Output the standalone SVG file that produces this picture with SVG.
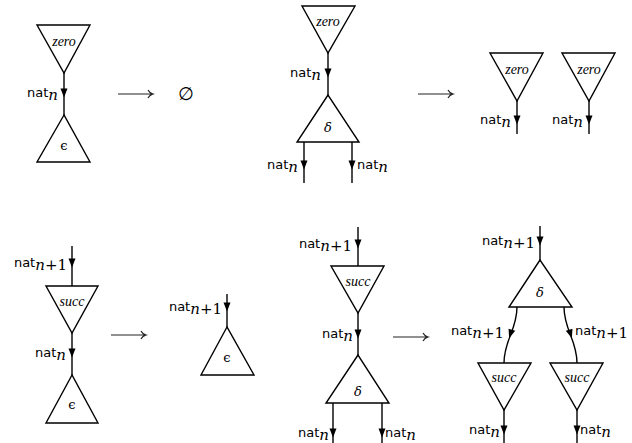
<svg xmlns="http://www.w3.org/2000/svg" width="632" height="443" viewBox="0 0 632 443">
<style>
.tri{fill:#fff;stroke:#000;stroke-width:1.4;stroke-linejoin:miter}
.w{fill:none;stroke:#000;stroke-width:1.4}
.ra{fill:none;stroke:#222;stroke-width:1.2}
.lab{font-family:"DejaVu Sans",sans-serif;font-size:13px;fill:#000}
.sub{font-family:"DejaVu Serif",serif;font-style:italic;font-size:15px}
.subu{font-family:"DejaVu Serif",serif;font-size:15px}
.nm{font-family:"Liberation Serif",serif;font-style:italic;font-size:14px;fill:#000;text-anchor:middle}
.gk{font-family:"DejaVu Serif",serif;font-style:italic;font-size:13px;fill:#000;text-anchor:middle}
.ep{font-family:"DejaVu Serif",serif;font-size:13px;fill:#000;text-anchor:middle}
</style>
<defs>
<path id="ah" d="M-3.5,-4.5 L3.5,-4.5 L0,4.5 Z" fill="#000"/>
<path id="rarr" d="M0,0 H35 M30,-4 Q31.5,-1 35,0 Q31.5,1 30,4"/>
</defs>

<!-- connectors -->
<g id="connectors">
<path class="w" d="M64,73 V115"/><use href="#ah" x="64" y="93"/>
<path class="w" d="M328,53 V95"/><use href="#ah" x="328" y="73"/>
<path class="w" d="M304,142 V183"/><use href="#ah" x="304" y="165"/>
<path class="w" d="M352,142 V183"/><use href="#ah" x="352" y="165"/>
<path class="w" d="M517,101 V134"/><use href="#ah" x="517" y="120"/>
<path class="w" d="M589,101 V134"/><use href="#ah" x="589" y="120"/>
<path class="w" d="M72,246 V286"/><use href="#ah" x="72" y="263"/>
<path class="w" d="M72,333 V375"/><use href="#ah" x="72" y="353"/>
<path class="w" d="M227,294 V327"/><use href="#ah" x="227" y="307"/>
<path class="w" d="M358,227 V266"/><use href="#ah" x="358" y="244"/>
<path class="w" d="M358,313 V355"/><use href="#ah" x="358" y="334"/>
<path class="w" d="M333,403 V443"/><use href="#ah" x="333" y="433"/>
<path class="w" d="M382,403 V443"/><use href="#ah" x="382" y="433"/>
<path class="w" d="M540,226 V260"/><use href="#ah" x="540" y="241"/>
<path class="w" d="M517,307 C517,330 504,340 504,363"/><use href="#ah" transform="translate(510.5,334) rotate(18)"/>
<path class="w" d="M564,307 C564,330 577,340 577,363"/><use href="#ah" transform="translate(570.5,334) rotate(-18)"/>
<path class="w" d="M504,410 V443"/><use href="#ah" x="504" y="430"/>
<path class="w" d="M577,410 V443"/><use href="#ah" x="577" y="430"/>
</g>

<!-- rewrite arrows -->
<g id="rewrites">
<use href="#rarr" class="ra" x="118" y="94"/>
<use href="#rarr" class="ra" x="418" y="94"/>
<use href="#rarr" class="ra" x="111" y="335"/>
<use href="#rarr" class="ra" x="393" y="337"/>
</g>

<!-- top-left -->
<g id="zero1"><polygon class="tri" points="37,25 90,25 64,73"/><text class="nm" x="64" y="46">zero</text></g>
<g id="eps1"><polygon class="tri" points="64,115 37,162 90,162"/><text class="ep" x="64" y="150">ϵ</text></g>
<text class="lab" x="58" y="97" text-anchor="end">nat<tspan class="sub" dy="3">n</tspan></text>
<g id="empty"><text x="186" y="100" font-family="DejaVu Sans,sans-serif" font-size="18" text-anchor="middle">∅</text></g>

<!-- top-middle -->
<g id="zero2"><polygon class="tri" points="302,6 355,6 328,53"/><text class="nm" x="328" y="26">zero</text></g>
<g id="delta2"><polygon class="tri" points="328,95 297,142 359,142"/><text class="gk" x="328" y="132">δ</text></g>
<text class="lab" x="321" y="77" text-anchor="end">nat<tspan class="sub" dy="3">n</tspan></text>
<text class="lab" x="298" y="169" text-anchor="end">nat<tspan class="sub" dy="3">n</tspan></text>
<text class="lab" x="357" y="169">nat<tspan class="sub" dy="3">n</tspan></text>

<!-- top-right -->
<g id="zero3a"><polygon class="tri" points="490,53 543,53 517,101"/><text class="nm" x="517" y="74">zero</text></g>
<g id="zero3b"><polygon class="tri" points="562,53 615,53 589,101"/><text class="nm" x="589" y="74">zero</text></g>
<text class="lab" x="511" y="124" text-anchor="end">nat<tspan class="sub" dy="3">n</tspan></text>
<text class="lab" x="583" y="124" text-anchor="end">nat<tspan class="sub" dy="3">n</tspan></text>

<!-- bottom-left -->
<g id="succ4"><polygon class="tri" points="46,286 98,286 72,333"/><text class="nm" x="72" y="306">succ</text></g>
<g id="eps4"><polygon class="tri" points="72,375 46,423 98,423"/><text class="ep" x="72" y="409">ϵ</text></g>
<text class="lab" x="67" y="267" text-anchor="end">nat<tspan class="sub" dy="3">n</tspan><tspan class="subu">+1</tspan></text>
<text class="lab" x="66" y="357" text-anchor="end">nat<tspan class="sub" dy="3">n</tspan></text>

<!-- bottom-middle-left -->
<g id="eps5"><polygon class="tri" points="227,327 201,375 254,375"/><text class="ep" x="227" y="362">ϵ</text></g>
<text class="lab" x="222" y="311" text-anchor="end">nat<tspan class="sub" dy="3">n</tspan><tspan class="subu">+1</tspan></text>

<!-- bottom-middle -->
<g id="succ6"><polygon class="tri" points="331,266 384,266 358,313"/><text class="nm" x="358" y="286">succ</text></g>
<g id="delta6"><polygon class="tri" points="358,355 326,403 389,403"/><text class="gk" x="358" y="396">δ</text></g>
<text class="lab" x="352" y="248" text-anchor="end">nat<tspan class="sub" dy="3">n</tspan><tspan class="subu">+1</tspan></text>
<text class="lab" x="353" y="338" text-anchor="end">nat<tspan class="sub" dy="3">n</tspan></text>
<text class="lab" x="329" y="437" text-anchor="end">nat<tspan class="sub" dy="3">n</tspan></text>
<text class="lab" x="385" y="437">nat<tspan class="sub" dy="3">n</tspan></text>

<!-- bottom-right -->
<g id="delta7"><polygon class="tri" points="540,260 509,307 572,307"/><text class="gk" x="540" y="297">δ</text></g>
<g id="succ7a"><polygon class="tri" points="478,363 531,363 504,410"/><text class="nm" x="504" y="382">succ</text></g>
<g id="succ7b"><polygon class="tri" points="550,363 603,363 577,410"/><text class="nm" x="577" y="382">succ</text></g>
<text class="lab" x="535" y="245" text-anchor="end">nat<tspan class="sub" dy="3">n</tspan><tspan class="subu">+1</tspan></text>
<text class="lab" x="504" y="335" text-anchor="end">nat<tspan class="sub" dy="3">n</tspan><tspan class="subu">+1</tspan></text>
<text class="lab" x="575" y="335">nat<tspan class="sub" dy="3">n</tspan><tspan class="subu">+1</tspan></text>
<text class="lab" x="500" y="434" text-anchor="end">nat<tspan class="sub" dy="3">n</tspan></text>
<text class="lab" x="580" y="434">nat<tspan class="sub" dy="3">n</tspan></text>
</svg>
